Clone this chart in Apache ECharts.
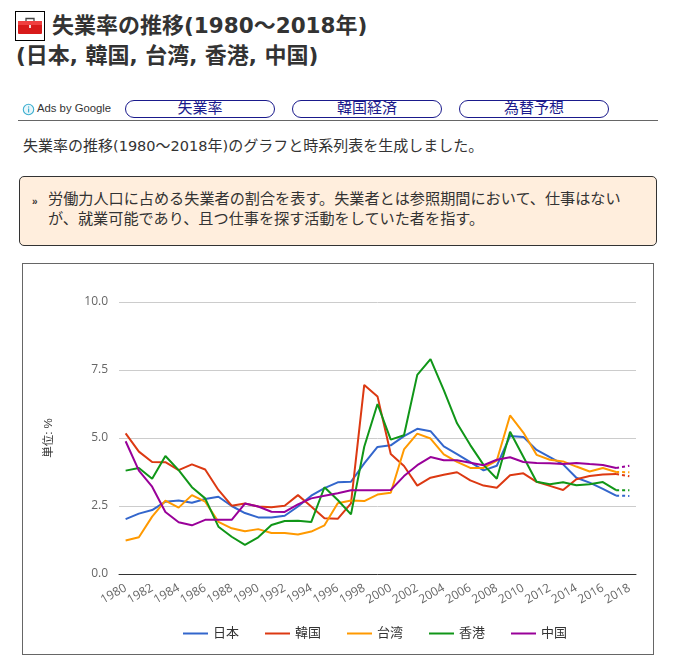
<!DOCTYPE html>
<html lang="ja"><head><meta charset="utf-8">
<style>
html,body{margin:0;padding:0;background:#fff;width:673px;height:662px;overflow:hidden;font-family:"Liberation Sans","Noto Sans CJK JP",sans-serif;color:#333}
.a{position:absolute;white-space:nowrap;line-height:1}
.h{font-weight:700;font-size:22px;color:#333}
.h span{font-family:"DejaVu Sans";font-size:21.5px}
.p span{font-family:"DejaVu Sans";font-size:14.5px}
.btn{position:absolute;top:100px;width:148px;height:16px;border:1px solid #1a1a8c;border-radius:9px;color:#1a1a8c;font-size:15px;line-height:14px;text-align:center}
#chart{position:absolute;left:23px;top:264px;width:629px;height:389px}
#frame{position:absolute;left:22px;top:263px;width:630px;height:390px;border:1px solid #666}
</style></head><body>
<svg class="a" style="left:15px;top:11px" width="31" height="31" viewBox="0 0 31 31">
<rect x=".5" y=".5" width="29" height="29" fill="#fff" stroke="#000"/>
<path d="M11 10V7.5h8V10" fill="none" stroke="#444" stroke-width="1.3"/>
<rect x="3" y="10" width="24" height="13" rx="1" fill="#d81a1a"/><rect x="3" y="10" width="24" height="4" fill="#f04040"/><rect x="14" y="14" width="2" height="3" fill="#f3dcdc"/>
</svg>
<div class="a h" style="left:52px;top:15px">失業率の推移<span>(1980</span>～<span>2018</span>年<span>)</span></div>
<div class="a h" style="left:16px;top:45px"><span>(</span>日本<span>, </span>韓国<span>, </span>台湾<span>, </span>香港<span>, </span>中国<span>)</span></div>
<svg class="a" style="left:22px;top:103px" width="13" height="13"><circle cx="6.5" cy="6.5" r="5.2" fill="#e8f6fb" stroke="#3fb0d0" stroke-width="1.1"/><rect x="6" y="5.5" width="1.2" height="4" fill="#3fb0d0"/><rect x="6" y="3.4" width="1.2" height="1.2" fill="#3fb0d0"/></svg>
<div class="a" style="left:37px;top:103px;font-size:11.3px;color:#333">Ads by Google</div>
<div class="btn" style="left:125px">失業率</div>
<div class="btn" style="left:292px">韓国経済</div>
<div class="btn" style="left:459px">為替予想</div>
<div style="position:absolute;left:18px;top:120px;width:640px;height:1px;background:#666"></div>
<div class="a p" style="left:23px;top:138px;font-size:15px">失業率の推移<span>(1980</span>～<span>2018</span>年<span>)</span>のグラフと時系列表を生成しました。</div>
<div style="position:absolute;left:19px;top:176px;width:636px;height:68px;background:#ffeedd;border:1px solid #333;border-radius:5px"></div>
<div class="a" style="left:32px;top:197px;font-size:10px;font-weight:700">»</div>
<div class="a" style="left:48px;top:191px;font-size:15.15px">労働力人口に占める失業者の割合を表す。失業者とは参照期間において、仕事はない</div>
<div class="a" style="left:48px;top:211px;font-size:15.15px">が、就業可能であり、且つ仕事を探す活動をしていた者を指す。</div>
<div id="frame"></div>
<div id="chart"></div>
<script src="https://cdn.jsdelivr.net/npm/echarts@6/dist/echarts.min.js"></script>
<script>
const years=[1980,1981,1982,1983,1984,1985,1986,1987,1988,1989,1990,1991,1992,1993,1994,1995,1996,1997,1998,1999,2000,2001,2002,2003,2004,2005,2006,2007,2008,2009,2010,2011,2012,2013,2014,2015,2016,2017,2018].map(String);
const japan=[2.02,2.22,2.35,2.66,2.70,2.62,2.76,2.84,2.50,2.24,2.08,2.08,2.14,2.48,2.88,3.16,3.37,3.39,4.07,4.67,4.73,5.07,5.34,5.25,4.69,4.41,4.11,3.81,3.98,5.07,5.04,4.56,4.30,4.03,3.54,3.36,3.13,2.88,2.87];
const korea=[5.17,4.50,4.12,4.11,3.82,4.03,3.84,3.09,2.51,2.59,2.48,2.45,2.51,2.90,2.48,2.05,2.03,2.60,6.95,6.53,4.41,3.97,3.25,3.54,3.65,3.74,3.44,3.25,3.17,3.63,3.70,3.39,3.24,3.09,3.48,3.60,3.66,3.68,3.59];
const taiwan=[1.23,1.35,2.11,2.70,2.44,2.90,2.66,1.92,1.68,1.57,1.65,1.51,1.51,1.45,1.56,1.79,2.60,2.70,2.68,2.92,2.99,4.58,5.16,4.98,4.40,4.12,3.90,3.90,4.17,5.83,5.20,4.38,4.20,4.14,3.95,3.77,3.90,3.75,3.74];
const hongkong=[3.80,3.90,3.50,4.34,3.82,3.19,2.78,1.74,1.37,1.07,1.35,1.80,1.95,1.96,1.91,3.19,2.72,2.19,4.68,6.25,4.94,5.10,7.32,7.90,6.76,5.54,4.74,4.01,3.50,5.23,4.31,3.39,3.30,3.37,3.26,3.30,3.38,3.08,3.08];
const china=[4.88,3.80,3.21,2.28,1.90,1.79,1.99,1.99,1.99,2.59,2.48,2.29,2.28,2.56,2.78,2.88,2.97,3.08,3.08,3.08,3.09,3.60,4.00,4.30,4.18,4.18,4.09,4.00,4.20,4.29,4.12,4.08,4.07,4.04,4.08,4.04,4.01,3.90,3.98];
const names=['日本','韓国','台湾','香港','中国'];
const colors=['#3366cc','#dc3912','#ff9900','#109618','#990099'];
const values=[japan,korea,taiwan,hongkong,china];
const series=[];
values.forEach((v,i)=>{
  series.push({name:names[i],type:'line',symbol:'none',z:2+i,lineStyle:{width:2,color:colors[i]},itemStyle:{color:colors[i]},
    data:v.map((x,k)=>k<v.length-1?x:null)});
  series.push({name:names[i],type:'line',symbol:'none',z:2+i,lineStyle:{width:2,color:colors[i],type:[3,3]},itemStyle:{color:colors[i]},
    data:v.map((x,k)=>k>=v.length-2?x:null)});
});
const chart=echarts.init(document.getElementById('chart'),null,{renderer:'canvas'});
chart.setOption({
  animation:false,
  textStyle:{fontFamily:'"Liberation Sans","Noto Sans CJK JP",sans-serif'},
  grid:{left:96,right:16,top:38,bottom:79},
  legend:{data:names,top:358,left:155,icon:'rect',itemWidth:25,itemHeight:2,itemGap:26,textStyle:{fontSize:13,color:'#333'}},
  xAxis:{type:'category',data:years,boundaryGap:true,
    axisLine:{lineStyle:{color:'#333',width:1}},axisTick:{show:false},
    axisLabel:{interval:1,rotate:30,fontFamily:'"Open Sans"',fontSize:12,color:'#666',margin:13}},
  yAxis:{type:'value',min:0,max:10,interval:2.5,name:'単位: %',nameLocation:'middle',nameGap:64,nameTextStyle:{fontSize:11.5,color:'#333'},
    axisLine:{show:false},axisTick:{show:false},
    splitLine:{lineStyle:{color:'#ccc',width:1}},
    axisLabel:{color:'#666',fontFamily:'"Open Sans"',fontSize:12,margin:11,formatter:v=>v.toFixed(1)}},
  series
});
</script>
</body></html>
